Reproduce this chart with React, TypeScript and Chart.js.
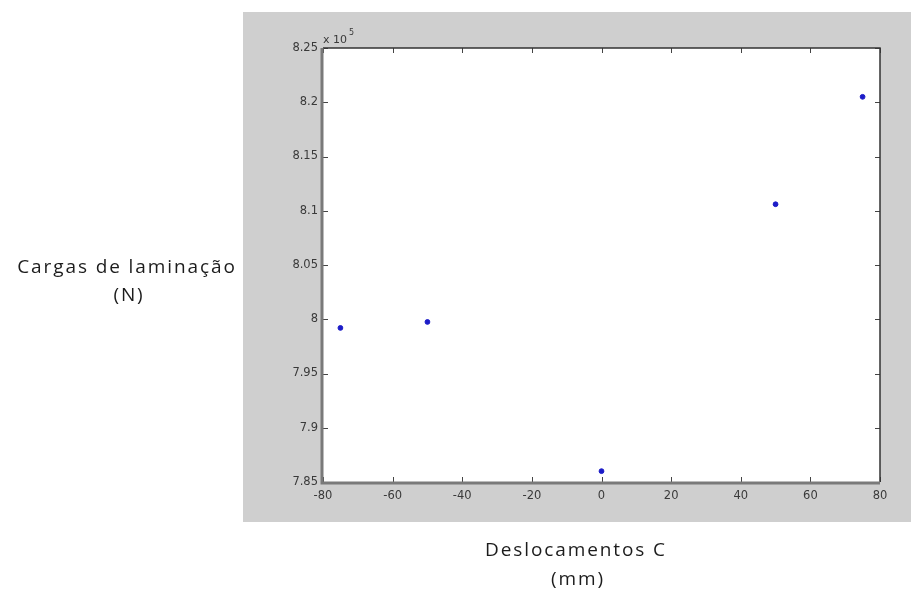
import React, { useEffect, useRef } from "react";
import { Chart, registerables } from "chart.js";

Chart.register(...registerables);

const xValues = [-75, -50, 0, 50, 75];
const yValues = [799200, 799750, 786000, 810600, 820500];
const xTicks = [-80, -60, -40, -20, 0, 20, 40, 60, 80];
const yTickLabels = ["7.85", "7.9", "7.95", "8", "8.05", "8.1", "8.15", "8.2", "8.25"];
const yLabelLines = ["Cargas de laminação", "(N)"];
const xLabelLines = ["Deslocamentos C", "(mm)"];
const exponentText = "x 10";
const exponentSup = "5";

const Y_MIN = 785000;
const Y_STEP = 5000;
const TICK_FONT = "'DejaVu Sans', Arial, sans-serif";

const figurePlugin = {
  id: "figurePlugin",
  beforeDraw(chart: any) {
    const { ctx, chartArea } = chart;
    ctx.save();
    ctx.fillStyle = "#ffffff";
    ctx.fillRect(0, 0, chart.width, chart.height);
    ctx.fillStyle = "#cfcfcf";
    ctx.fillRect(243, 12, chart.width - 243, 510);
    ctx.fillStyle = "#ffffff";
    ctx.fillRect(chartArea.left, chartArea.top, chartArea.right - chartArea.left, chartArea.bottom - chartArea.top);
    ctx.restore();
  },
  afterDraw(chart: any) {
    const { ctx, chartArea, scales } = chart;
    const { left, right, top, bottom } = chartArea;
    ctx.save();
    // ticks inward
    ctx.strokeStyle = "#444";
    ctx.lineWidth = 1;
    xTicks.forEach((v) => {
      const px = Math.round(scales.x.getPixelForValue(v)) + 0.5;
      ctx.beginPath();
      ctx.moveTo(px, bottom);
      ctx.lineTo(px, bottom - 5);
      ctx.moveTo(px, top);
      ctx.lineTo(px, top + 5);
      ctx.stroke();
    });
    yTickLabels.forEach((_, i) => {
      const py = Math.round(scales.y.getPixelForValue(Y_MIN + i * Y_STEP)) + 0.5;
      ctx.beginPath();
      ctx.moveTo(left, py);
      ctx.lineTo(left + 5, py);
      ctx.moveTo(right, py);
      ctx.lineTo(right - 5, py);
      ctx.stroke();
    });
    // box
    ctx.strokeStyle = "#333";
    ctx.lineWidth = 1.5;
    ctx.beginPath();
    ctx.moveTo(left, top);
    ctx.lineTo(right, top);
    ctx.lineTo(right, bottom);
    ctx.stroke();
    ctx.strokeStyle = "#7a7a7a";
    ctx.lineWidth = 3;
    ctx.beginPath();
    ctx.moveTo(left - 1, top);
    ctx.lineTo(left - 1, bottom + 1);
    ctx.lineTo(right, bottom + 1);
    ctx.stroke();
    // exponent
    ctx.fillStyle = "#3a3a3a";
    ctx.font = "11px " + TICK_FONT;
    ctx.textAlign = "left";
    ctx.textBaseline = "alphabetic";
    ctx.fillText(exponentText, left, top - 5);
    const w = ctx.measureText(exponentText).width;
    ctx.font = "8px " + TICK_FONT;
    ctx.fillText(exponentSup, left + w + 2, top - 13);
    // outer labels
    ctx.fillStyle = "#1c1c1c";
    ctx.font = "19px 'Open Sans', 'Noto Sans', sans-serif";
    (ctx as any).letterSpacing = "1.9px";
    ctx.textAlign = "center";
    ctx.textBaseline = "middle";
    ctx.fillText(yLabelLines[0], 127, 268);
    ctx.fillText(yLabelLines[1], 129, 296);
    ctx.fillText(xLabelLines[0], 576, 551);
    ctx.fillText(xLabelLines[1], 578, 580);
    ctx.restore();
  },
};

export default function App() {
  const canvasRef = useRef<HTMLCanvasElement | null>(null);

  useEffect(() => {
    if (!canvasRef.current) return;
    const chart = new Chart(canvasRef.current, {
      type: "scatter",
      data: {
        datasets: [
          {
            data: xValues.map((x, i) => ({ x, y: yValues[i] })),
            backgroundColor: "#1c1cc8",
            borderColor: "#1c1cc8",
            pointRadius: 2.4,
            pointHoverRadius: 2.4,
          },
        ],
      },
      options: {
        animation: false,
        responsive: false,
        maintainAspectRatio: false,
        layout: { padding: { left: 273, right: 31, top: 48, bottom: 85 } },
        plugins: { legend: { display: false }, tooltip: { enabled: false } },
        scales: {
          x: {
            type: "linear",
            min: -80,
            max: 80,
            afterBuildTicks: (scale: any) => {
              scale.ticks = xTicks.map((v) => ({ value: v }));
            },
            afterFit: (scale: any) => {
              scale.height = 30;
            },
            grid: { display: false, drawTicks: false },
            border: { display: false },
            ticks: {
              color: "#3a3a3a",
              padding: 7,
              maxRotation: 0,
              autoSkip: false,
              font: { family: TICK_FONT, size: 11.5 },
              callback: (v: any) => String(v),
            },
          },
          y: {
            type: "linear",
            min: Y_MIN,
            max: Y_MIN + Y_STEP * (yTickLabels.length - 1),
            afterBuildTicks: (scale: any) => {
              scale.ticks = yTickLabels.map((_, i) => ({ value: Y_MIN + i * Y_STEP }));
            },
            afterFit: (scale: any) => {
              scale.width = 50;
            },
            grid: { display: false, drawTicks: false },
            border: { display: false },
            ticks: {
              color: "#3a3a3a",
              padding: 5,
              autoSkip: false,
              font: { family: TICK_FONT, size: 11.5 },
              callback: (v: any) => {
                const i = Math.round((Number(v) - Y_MIN) / Y_STEP);
                return yTickLabels[i] ?? "";
              },
            },
          },
        },
      },
      plugins: [figurePlugin],
    } as any);
    return () => chart.destroy();
  }, []);

  return (
    <div style={{ position: "fixed", left: 0, top: 0, width: 911, height: 597 }}>
      <canvas ref={canvasRef} width={911} height={597} style={{ width: 911, height: 597, display: "block" }} />
    </div>
  );
}
